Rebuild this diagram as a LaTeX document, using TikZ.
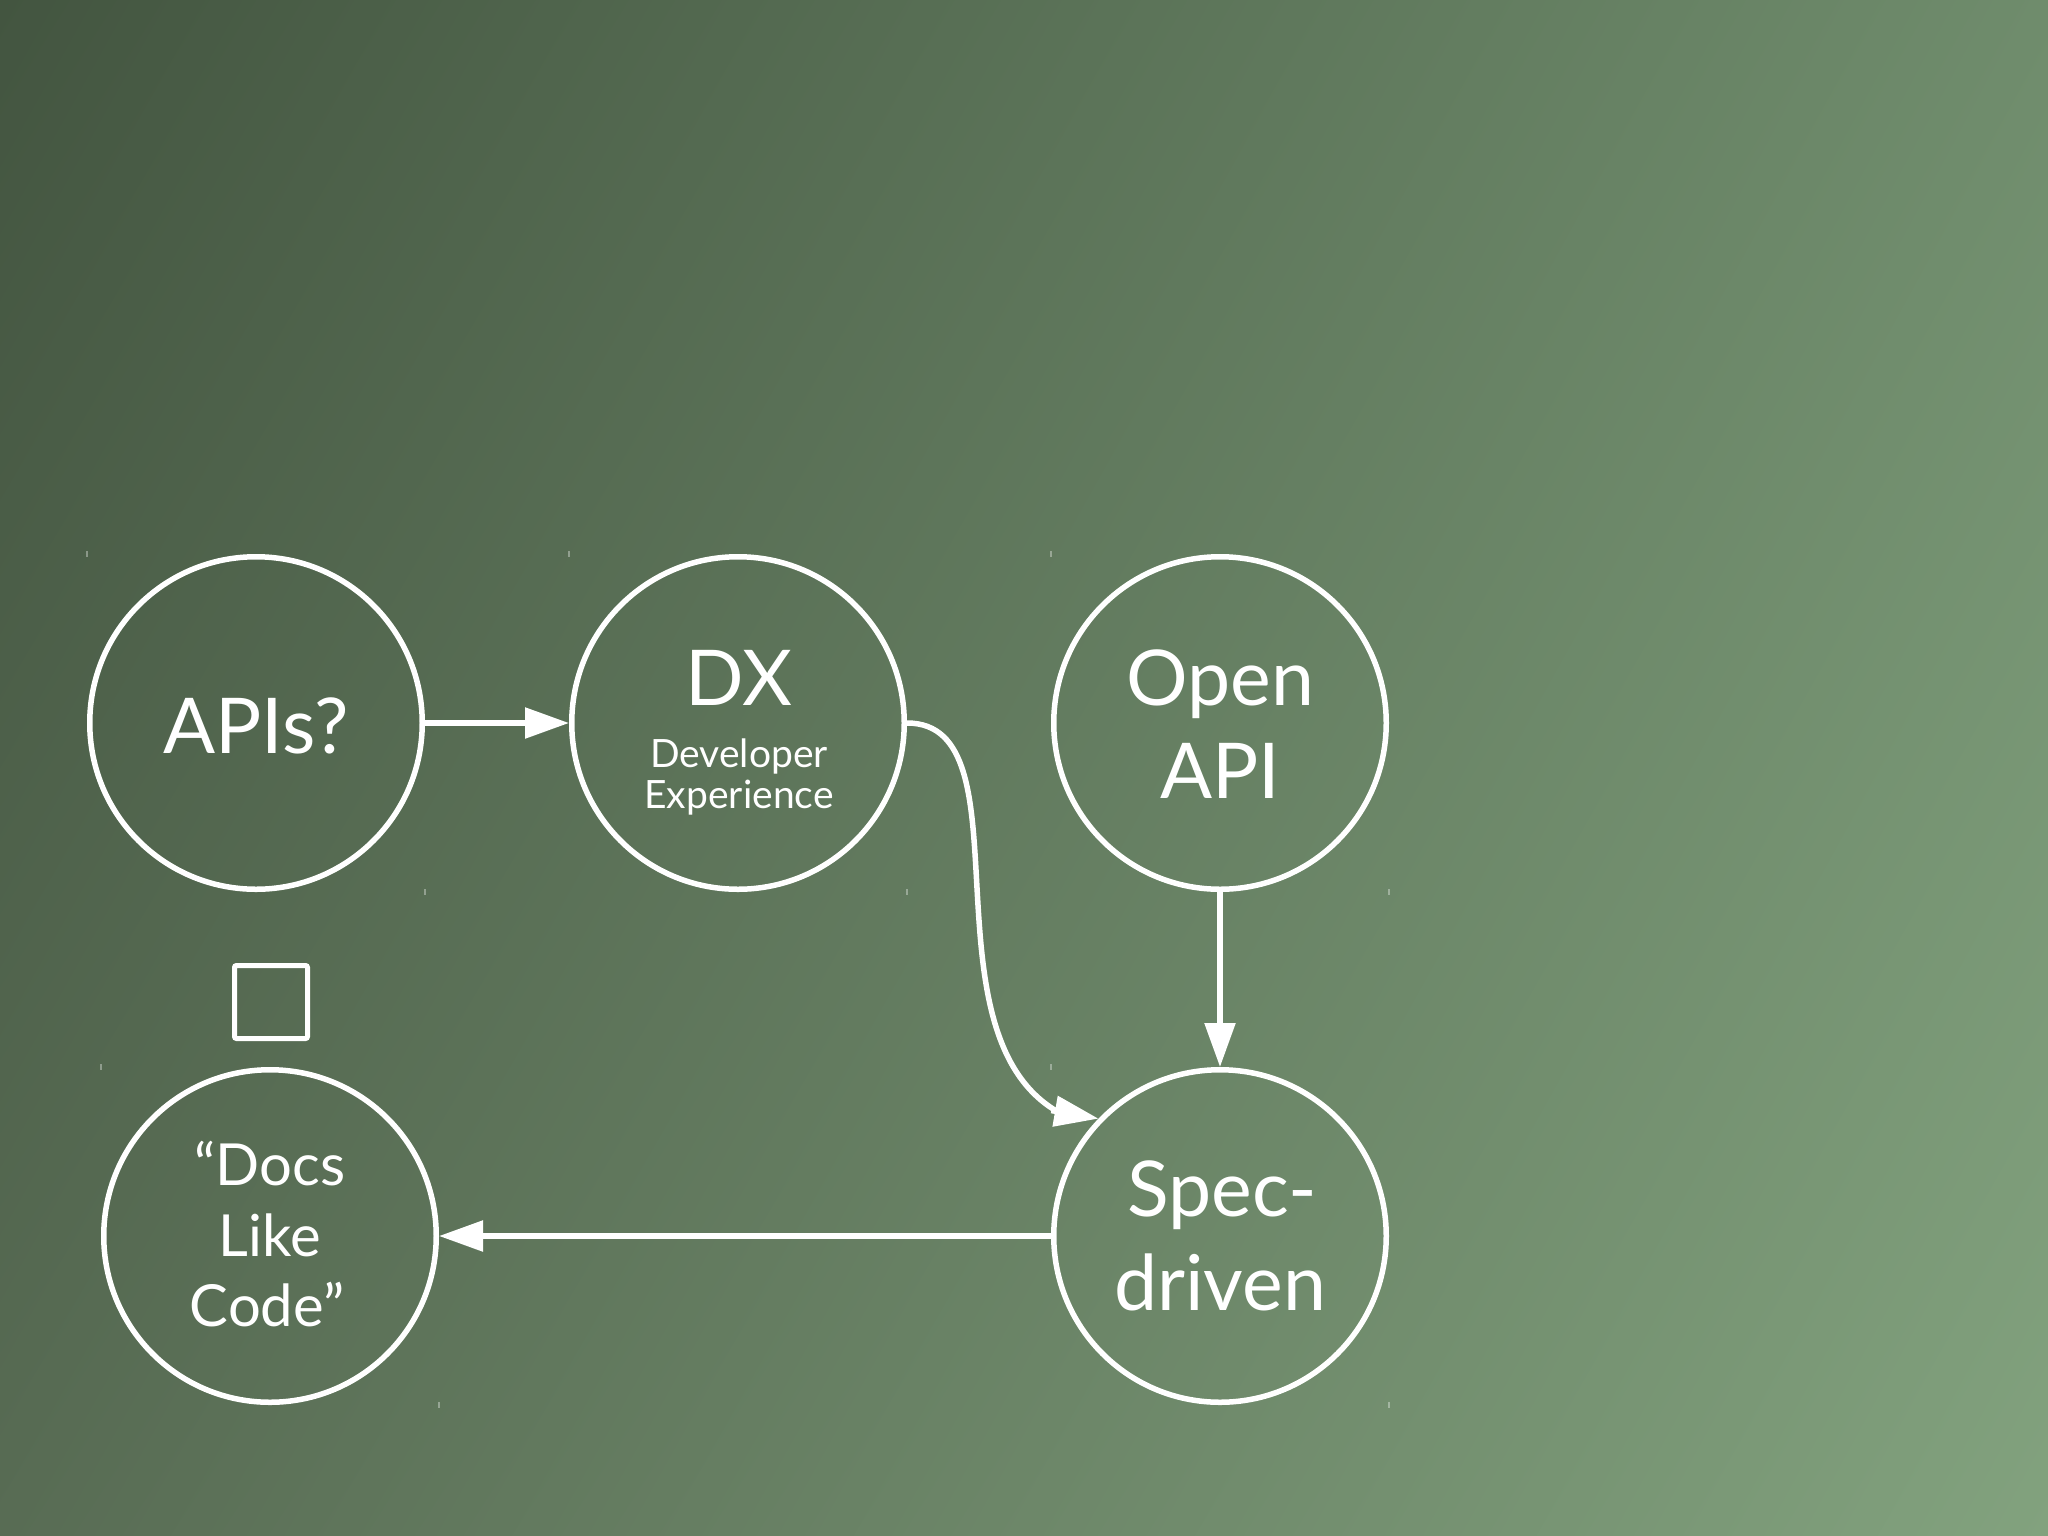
\documentclass[tikz,border=0pt]{standalone}
\usepackage{fontspec}
\setmainfont{Lato}
\usetikzlibrary{arrows.meta,calc,shadings}
\definecolor{bgUL}{HTML}{435540}
\definecolor{bgUR}{HTML}{6F8C6C}
\definecolor{bgLL}{HTML}{586C54}
\definecolor{bgLR}{HTML}{82A27E}
\begin{document}
\begin{tikzpicture}[x=1pt,y=-1pt,
  ring/.style={circle,draw=white,line width=5.5pt,minimum size=332.5pt,inner sep=0pt},
  wire/.style={draw=white,line width=5.5pt},
  conn/.style={wire,-{Triangle[length=44pt,width=30pt]}},
  big/.style={text=white,font=\fontsize{77}{94}\selectfont,inner sep=0pt,anchor=base},
  mid/.style={text=white,font=\fontsize{58}{70}\selectfont,inner sep=0pt,anchor=base},
  small/.style={text=white,font=\fontsize{39}{40}\selectfont,inner sep=0pt,anchor=base},
  tick/.style={draw=white,draw opacity=0.35,line width=1.2pt}]
\useasboundingbox (0,0) rectangle (2048,1535);
\shade[shading=bilinear interpolation,upper left=bgUL,upper right=bgUR,lower left=bgLL,lower right=bgLR] (0,0) rectangle (2048,1535);

% circles
\node[ring] (apis) at (256,723) {};
\node[ring] (dx) at (738,723) {};
\node[ring] (open) at (1220,723) {};
\node[ring] (docs) at (270,1236) {};
\node[ring] (spec) at (1220,1236) {};

% square
\node[draw=white,line width=5pt,minimum size=73pt,inner sep=0pt,rounded corners=2pt] (sq) at (271,1002) {};

% texts
\node[big] (apisT) at (256,753) {APIs?};
\node[big] (dxT) at (739,705) {DX};
\node[small] (dxT2) at (739,767) {Developer};
\node[small] (dxT3) at (739,808) {Experience};
\node[big] (openT1) at (1220,705) {Open};
\node[big] (openT2) at (1220,798) {API};
\node[big] (specT1) at (1222,1216) {Spec-};
\node[big] (specT2) at (1220,1310) {driven};
\node[mid] (docsT1) at (270,1185) {“Docs};
\node[mid] (docsT2) at (270,1256) {Like};
\node[mid] (docsT3) at (267,1326) {Code”};

% connectors
\draw[conn] (apis.east) -- (dx.west);
\draw[conn] (open.south) -- (spec.north);
\draw[conn] (spec.west) -- (docs.east);
\coordinate (tipS) at (spec.136);
\coordinate (baseS) at ($(tipS)+(-41,-7)$);
\draw[wire] (dx.east) .. controls ($(dx.east)+(124,0)$) and ($(baseS)+(-138,-80)$) .. (baseS);
\draw[conn] ($(tipS)!1.15!(baseS)$) -- (tipS);

% faint selection ticks
\foreach \x/\y in {87/554,569/554,1051/554,101/1067,1051/1067,425/892,907/892,1389/892,439/1405,1389/1405}
  \draw[tick] (\x,\y-3) -- (\x,\y+3);
\end{tikzpicture}
\end{document}
